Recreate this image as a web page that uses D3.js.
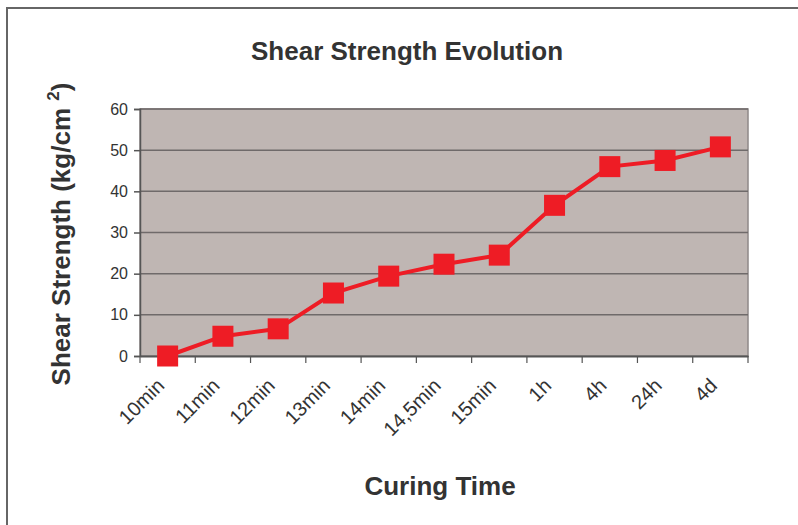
<!DOCTYPE html>
<html>
<head>
<meta charset="utf-8">
<script src="https://cdn.jsdelivr.net/npm/d3@7"></script>
<style>
  body { margin: 0; background: #fff; }
  text { font-family: "Liberation Sans", Arial, sans-serif; fill: #333; }
</style>
</head>
<body>
<div id="chart"></div>
<script>
// data
var categories = ["10min", "11min", "12min", "13min", "14min", "14,5min", "15min", "1h", "4h", "24h", "4d"];
var strength = [0, 4.8, 6.6, 15.3, 19.4, 22.3, 24.5, 36.6, 46.0, 47.5, 50.8];
var yTicks = [0, 10, 20, 30, 40, 50, 60];

var width = 798, height = 525;
var margin = {top: 109, right: 50, bottom: 169, left: 140};
var w = width - margin.left - margin.right,
    h = height - margin.top - margin.bottom;

var svg = d3.select("#chart").append("svg")
    .attr("width", width)
    .attr("height", height);

// outer frame
svg.append("path")
    .attr("d", "M7,530 L7,8 L810,8")
    .attr("fill", "none")
    .attr("stroke", "#666")
    .attr("stroke-width", 2);

var g = svg.append("g")
    .attr("transform", "translate(" + margin.left + "," + margin.top + ")");

var x = d3.scaleBand().domain(categories).range([0, w]);
var y = d3.scaleLinear().domain([0, 60]).range([h, 0]);

// plot area
g.append("rect")
    .attr("width", w)
    .attr("height", h)
    .attr("fill", "#bfb6b3")
    .attr("stroke", "#8f8888")
    .attr("stroke-width", 1.5);

// gridlines
g.selectAll(".grid")
    .data(yTicks.filter(function(d){ return d > 0; }))
    .enter().append("line")
    .attr("x1", 0).attr("x2", w)
    .attr("y1", function(d){ return y(d); })
    .attr("y2", function(d){ return y(d); })
    .attr("stroke", "#6f6a6a")
    .attr("stroke-width", 1.5);

// y axis
var yAxis = g.append("g")
    .call(d3.axisLeft(y).tickValues(yTicks).tickSize(6).tickPadding(6));
yAxis.select(".domain").attr("stroke", "#555").attr("stroke-width", 1.5);
yAxis.selectAll(".tick line").attr("stroke", "#555").attr("stroke-width", 1.5);
yAxis.selectAll(".tick text")
    .style("font-size", "16px")
    .style("font-family", "Liberation Sans, Arial, sans-serif")
    .attr("fill", "#333");

// x axis
var xAxis = g.append("g")
    .attr("transform", "translate(0," + h + ")")
    .call(d3.axisBottom(x).tickSize(0).tickSizeOuter(0));
xAxis.select(".domain").attr("stroke", "#555").attr("stroke-width", 2);
xAxis.selectAll(".tick line").remove();
// category boundary ticks
g.selectAll(".xtick")
    .data(d3.range(categories.length + 1))
    .enter().append("line")
    .attr("x1", function(i){ return i * x.bandwidth(); })
    .attr("x2", function(i){ return i * x.bandwidth(); })
    .attr("y1", h).attr("y2", h + 7)
    .attr("stroke", "#555")
    .attr("stroke-width", 1.2);
xAxis.selectAll(".tick text")
    .style("font-size", "20px")
    .style("font-family", "Liberation Sans, Arial, sans-serif")
    .attr("fill", "#333")
    .attr("text-anchor", "end")
    .attr("dy", null)
    .attr("y", 0)
    .attr("transform", "translate(-2,31) rotate(-45)");

// line + markers
var line = d3.line()
    .x(function(d, i){ return x(categories[i]) + x.bandwidth() / 2; })
    .y(function(d){ return y(d); });

g.append("path")
    .datum(strength)
    .attr("d", line)
    .attr("fill", "none")
    .attr("stroke", "#ee1c25")
    .attr("stroke-width", 4);

var s = 21;
g.selectAll(".marker")
    .data(strength)
    .enter().append("rect")
    .attr("x", function(d, i){ return x(categories[i]) + x.bandwidth() / 2 - s / 2; })
    .attr("y", function(d){ return y(d) - s / 2; })
    .attr("width", s)
    .attr("height", s)
    .attr("fill", "#ee1c25");

// titles
svg.append("text")
    .attr("x", 407)
    .attr("y", 60)
    .attr("text-anchor", "middle")
    .style("font-size", "26px")
    .style("font-weight", "bold")
    .text("Shear Strength Evolution");

svg.append("text")
    .attr("x", 440)
    .attr("y", 495)
    .attr("text-anchor", "middle")
    .style("font-size", "26px")
    .style("font-weight", "bold")
    .text("Curing Time");

var yl = svg.append("text")
    .attr("transform", "translate(70,234) rotate(-90)")
    .attr("text-anchor", "middle")
    .style("font-size", "26px")
    .style("font-weight", "bold");
yl.append("tspan").text("Shear Strength (kg/cm ");
yl.append("tspan").attr("dy", -11).style("font-size", "17px").text("2");
yl.append("tspan").attr("dy", 11).text(")");
</script>
</body>
</html>
